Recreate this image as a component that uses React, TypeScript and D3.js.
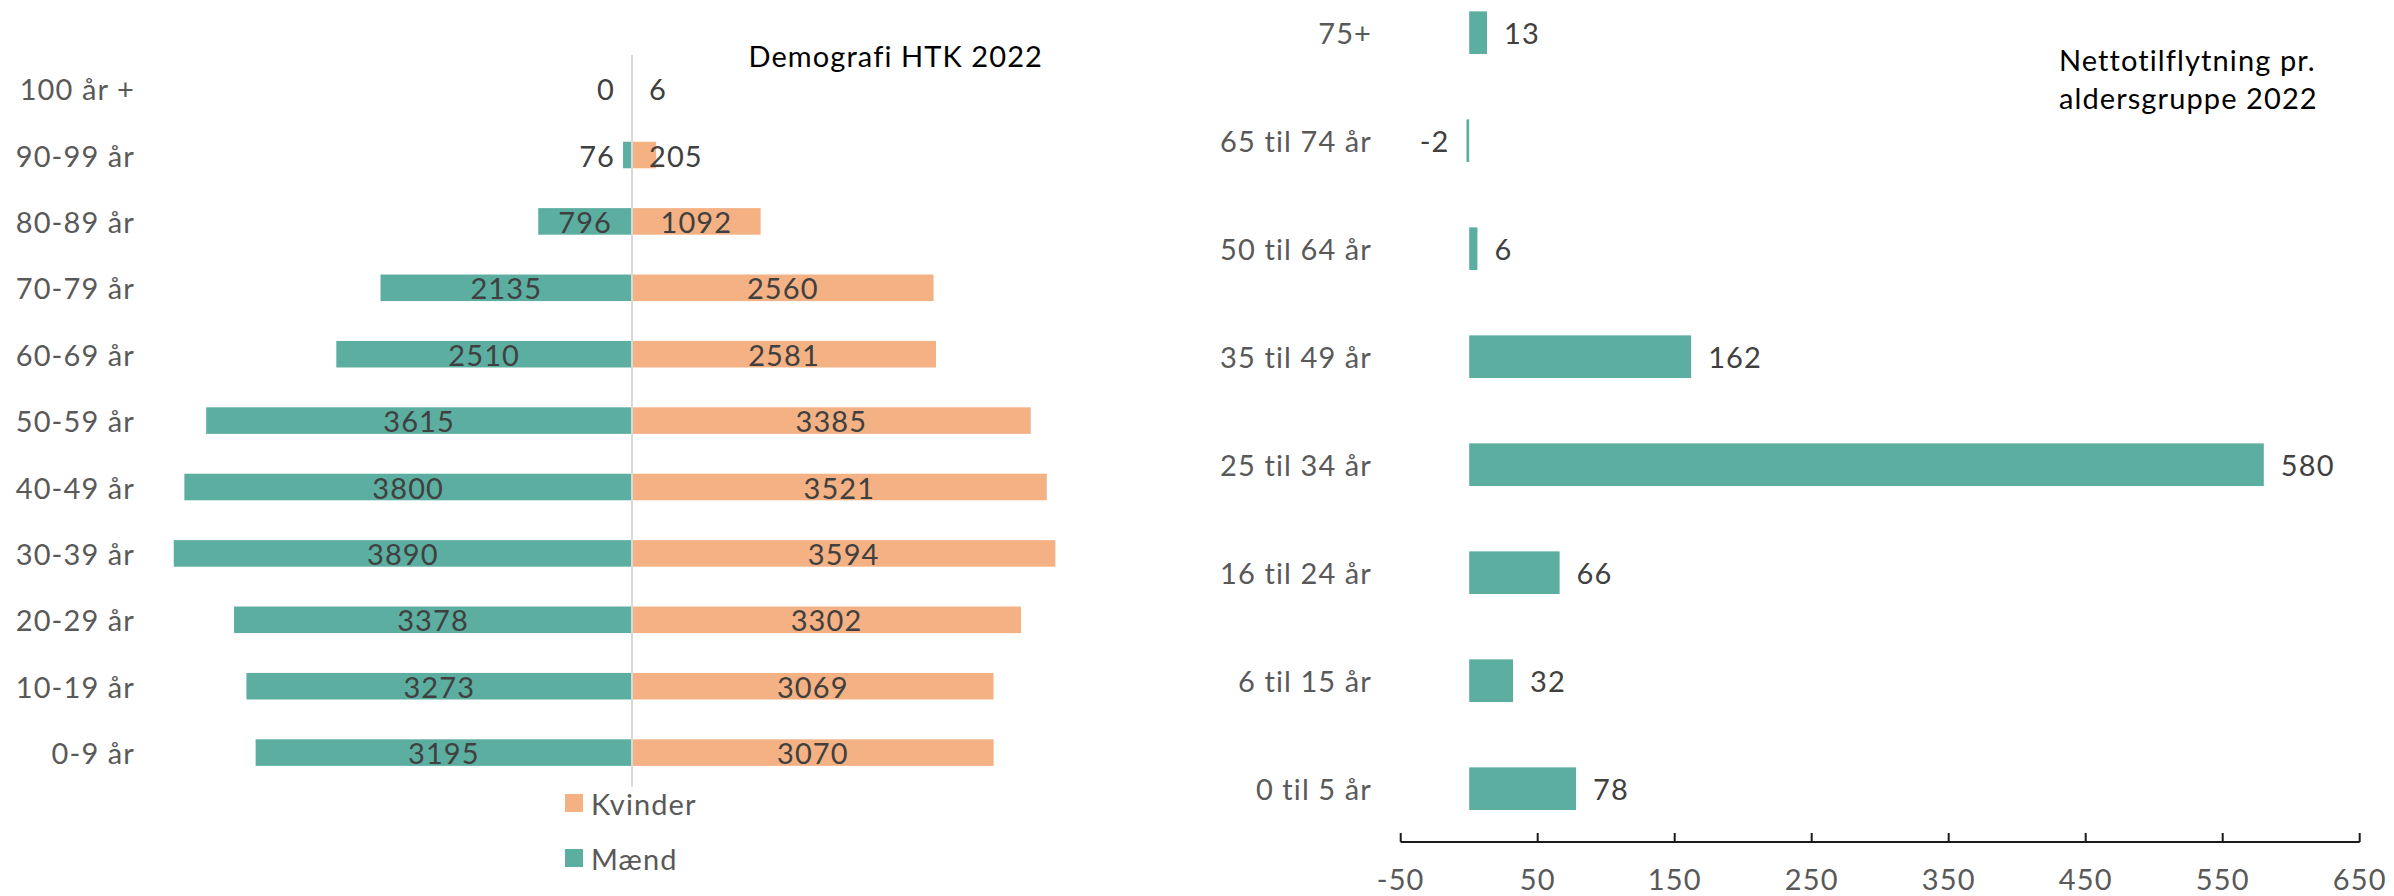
import React from "react";
import * as d3 from "d3";

const leftCategories = ["100 år +", "90-99 år", "80-89 år", "70-79 år", "60-69 år", "50-59 år", "40-49 år", "30-39 år", "20-29 år", "10-19 år", "0-9 år"];
const maendValues = [0, 76, 796, 2135, 2510, 3615, 3800, 3890, 3378, 3273, 3195];
const kvinderValues = [6, 205, 1092, 2560, 2581, 3385, 3521, 3594, 3302, 3069, 3070];
const legendLabels = ["Kvinder", "Mænd"];

const rightCategories = ["75+", "65 til 74 år", "50 til 64 år", "35 til 49 år", "25 til 34 år", "16 til 24 år", "6 til 15 år", "0 til 5 år"];
const nettoValues = [13, -2, 6, 162, 580, 66, 32, 78];
const rightTicks = [-50, 50, 150, 250, 350, 450, 550, 650];

const leftTitle = "Demografi HTK 2022";
const rightTitle = ["Nettotilflytning pr.", "aldersgruppe 2022"];

const TEAL = "#5BAEA0";
const ORANGE = "#F4B183";
const LABEL = "#404040";
const CAT = "#595959";
const FONT = "Lato, 'Open Sans', sans-serif";
const FS = 29;
const LS = 1.1;

export default function App() {
  const W = 2394;
  const H = 896;

  // Left pyramid
  const center = 632;
  const xL = d3.scaleLinear().domain([-4000, 4000]).range([center - 471.2, center + 471.2]);
  const yL = d3.scaleBand<string>().domain(leftCategories).range([55.4, 785.8]).paddingInner(0.6).paddingOuter(0.3);

  // Right chart
  const xR = d3.scaleLinear().domain([-50, 650]).range([1400.7, 2359.7]);
  const yR = d3.scaleBand<string>().domain(rightCategories).range([-21.3, 842.7]).paddingInner(0.605).paddingOuter(0.3025);
  const axisY = 842;

  return (
    <div style={{ position: "absolute", left: 0, top: 0 }}>
      <svg width={W} height={H} style={{ display: "block", fontFamily: FONT, letterSpacing: LS }}>
        <rect x={0} y={0} width={W} height={H} fill="#ffffff" />

        {/* Left chart */}
        <text x={1043} y={67} textAnchor="end" fontSize={FS} fill="#000">{leftTitle}</text>
        {leftCategories.map((c, i) => {
          const yc = (yL(c) as number) + yL.bandwidth() / 2;
          const m = maendValues[i];
          const k = kvinderValues[i];
          const mx = xL(-m);
          const kx = xL(k);
          const mW = center - mx;
          const kW = kx - center;
          const mInside = mW > 60;
          const kInside = kW > 60;
          return (
            <g key={c}>
              <text x={135} y={yc} textAnchor="end" dominantBaseline="central" fontSize={FS} fill={CAT}>{c}</text>
              {m > 0 && <rect x={mx} y={yL(c)} width={mW} height={yL.bandwidth()} fill={TEAL} />}
              {k > 0 && <rect x={center} y={yL(c)} width={kW} height={yL.bandwidth()} fill={ORANGE} />}
              <text
                x={mInside ? (mx + center) / 2 : center - 17}
                y={yc}
                textAnchor={mInside ? "middle" : "end"}
                dominantBaseline="central"
                fontSize={FS}
                fill={LABEL}
              >{m}</text>
              <text
                x={kInside ? (kx + center) / 2 : center + 17}
                y={yc}
                textAnchor={kInside ? "middle" : "start"}
                dominantBaseline="central"
                fontSize={FS}
                fill={LABEL}
              >{k}</text>
            </g>
          );
        })}
        <line x1={center} x2={center} y1={55} y2={787} stroke="#d9d9d9" strokeWidth={2} />

        {/* Legend */}
        {legendLabels.map((l, i) => {
          const cy = i === 0 ? 803 : 858;
          return (
            <g key={l}>
              <rect x={565} y={cy - 9} width={18} height={18} fill={i === 0 ? ORANGE : TEAL} />
              <text x={591} y={cy} dominantBaseline="central" fontSize={FS} fill={CAT}>{l}</text>
            </g>
          );
        })}

        {/* Right chart */}
        {rightTitle.map((t, i) => (
          <text key={t} x={2059} y={71 + i * 38} fontSize={FS} fill="#000">{t}</text>
        ))}
        {rightCategories.map((c, i) => {
          const v = nettoValues[i];
          const y0 = yR(c) as number;
          const yc = y0 + yR.bandwidth() / 2;
          const x0 = xR(Math.min(0, v));
          const x1 = xR(Math.max(0, v));
          return (
            <g key={c}>
              <text x={1372} y={yc} textAnchor="end" dominantBaseline="central" fontSize={FS} fill={CAT}>{c}</text>
              <rect x={x0} y={y0} width={Math.max(x1 - x0, 1)} height={yR.bandwidth()} fill={TEAL} />
              <text
                x={v >= 0 ? x1 + 17 : x0 - 17}
                y={yc}
                textAnchor={v >= 0 ? "start" : "end"}
                dominantBaseline="central"
                fontSize={FS}
                fill={LABEL}
              >{v}</text>
            </g>
          );
        })}
        <line x1={xR(-50)} x2={xR(650)} y1={axisY} y2={axisY} stroke="#1a1a1a" strokeWidth={2} />
        {rightTicks.map((t) => (
          <g key={t}>
            <line x1={xR(t)} x2={xR(t)} y1={axisY - 9} y2={axisY} stroke="#1a1a1a" strokeWidth={2} />
            <text x={xR(t)} y={878} textAnchor="middle" dominantBaseline="central" fontSize={FS} fill={CAT}>{t}</text>
          </g>
        ))}
      </svg>
    </div>
  );
}
